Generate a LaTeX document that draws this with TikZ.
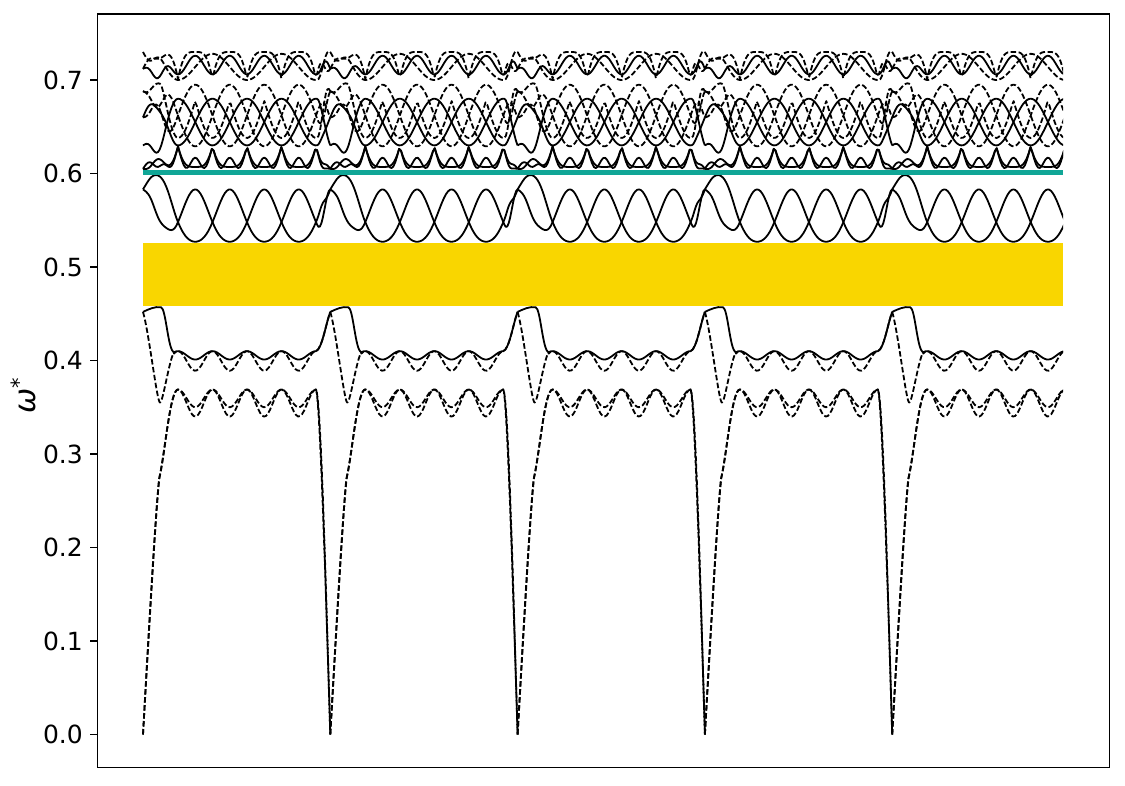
\documentclass[tikz,border=0pt]{standalone}
\usepackage{fontspec}
\setmainfont{DejaVu Sans}
\usetikzlibrary{calc}

\definecolor{gapyellow}{RGB}{249,214,0}
\definecolor{flatteal}{RGB}{16,166,150}
\tikzset{
  curve/.style={line width=1.8pt, line join=round},
  solidc/.style={curve},
  dashc/.style={curve, dash pattern=on 5.5pt off 2.5pt},
  ticklab/.style={anchor=east, inner sep=0pt, font=\fontsize{25}{28}\selectfont},
}
% one band of a segment: style, regular part, value at Gamma, wiggles
\newcommand\band[6]{\draw[#1]
  plot[domain=0:35, samples=22] ({\xo+\x},{mix(wn(\x),#2,ed(\x,#3,#4,#5,#6))})
  -- plot[domain=35:174, samples=75] ({\xo+\x},{#2})
  -- plot[domain=174:187.3, samples=10] ({\xo+\x},{mix(wn(\x),#2,ed(\x,#3,#4,#5,#6))});}

\begin{document}
\begin{tikzpicture}[x=1pt, y=1pt,
  declare function={
    cl(\r)=min(1,max(0,\r));
    wn(\t)=(0.5-0.5*cos(180*cl((\t-6)/29)))*(0.5-0.5*cos(180*cl((187.3-\t)/13)));
    mix(\w,\vr,\ve)=\w*\vr+(1-\w)*\ve;
    ph(\t)=(\t-35)*5.21739;
    sn(\t)=sin(ph(\t));
    cs(\t)=cos(ph(\t));
    bthree(\q)=0.548-0.028*\q+0.007*\q*\q;
    wf(\q)=0.629-0.0443*\q+0.0323*\q*\q*\q*\q;
    uf(\q)=0.629-0.022*\q*(2-\q);
    tf(\q)=0.701+0.029*\q*(2-\q);
    ed(\t,\vg,\va,\vc,\vb)=\vg+\va*sin(180*min(1,\t/35))+\vc*sin(540*min(1,\t/35))+\vb*sin(180*min(1,(187.3-\t)/13));
  }]
\useasboundingbox (0,0) rectangle (1125,785);
\draw[line width=1.2pt] (97.3,17.5) rectangle (1109.5,771);

\begin{scope}[shift={(0pt,50.5pt)}, y=935pt]
  \fill[gapyellow] (143,0.458) rectangle (1063,0.5255);

  \begin{scope}
    \clip (130,-0.05) rectangle (1063,0.78);
    \foreach \s in {0,...,4}{
      \pgfmathsetmacro\xo{143+187.3*\s}
      % acoustic branches
      \draw[dashc] (\xo,0) .. controls ({\xo+7},0.13) and ({\xo+13},0.24) .. ({\xo+16},0.273)
        .. controls ({\xo+22},0.30) and ({\xo+27},0.369) .. ({\xo+35},0.369)
        -- plot[domain=35:173, samples=70] ({\xo+\x},{0.369-0.0095*(1-cos(2*ph(\x)))})
        .. controls ({\xo+177},0.36) and ({\xo+183},0.15) .. ({\xo+187.3},0);
      \draw[dashc] (\xo,0) .. controls ({\xo+7},0.135) and ({\xo+13},0.245) .. ({\xo+16.5},0.275)
        .. controls ({\xo+22},0.30) and ({\xo+27},0.369) .. ({\xo+35},0.369)
        -- plot[domain=35:173, samples=70] ({\xo+\x},{0.369-0.0145*(1-cos(2*ph(\x)))})
        .. controls ({\xo+178},0.36) and ({\xo+183},0.15) .. ({\xo+187.3},0);
      % band below the gap
      \draw[solidc] (\xo,0.452) .. controls ({\xo+6},0.455) and ({\xo+12},0.458) .. ({\xo+18},0.457)
        .. controls ({\xo+23},0.456) and ({\xo+25},0.41) .. ({\xo+31},0.409)
        -- plot[domain=31:173, samples=70] ({\xo+\x},{0.41-0.0045*(1-cos(2*ph(\x)))})
        .. controls ({\xo+179},0.412) and ({\xo+183},0.44) .. ({\xo+187.3},0.452);
      \draw[dashc] (\xo,0.452) .. controls ({\xo+6},0.43) and ({\xo+14},0.355) .. ({\xo+17},0.355)
        .. controls ({\xo+20},0.355) and ({\xo+26},0.40) .. ({\xo+31},0.409)
        -- plot[domain=31:173, samples=70] ({\xo+\x},{0.41-0.0105*(1-cos(2*ph(\x)))})
        .. controls ({\xo+179},0.412) and ({\xo+183},0.44) .. ({\xo+187.3},0.452);
      % band above the gap
      \band{solidc}{bthree(sn(\x))}{0.583}{0.02}{0}{0}
      \band{solidc}{bthree(-sn(\x))}{0.583}{-0.02}{0.004}{-0.012}
      % upper bands
      \band{solidc}{wf(abs(sn(\x)))}{0.605}{0.004}{0.005}{0}
      \band{solidc}{uf(abs(sn(\x)))}{0.605}{0.01}{-0.004}{0.006}
      \band{solidc}{0.655+0.025*cs(\x)}{0.63}{-0.01}{0.006}{0.01}
      \band{solidc}{0.655-0.025*cs(\x)}{0.66}{0.015}{0.005}{-0.01}
      \band{dashc}{0.662+0.033*sn(\x)}{0.66}{0.02}{-0.006}{0.008}
      \band{dashc}{0.662-0.033*sn(\x)}{0.688}{-0.02}{0.005}{-0.006}
      \band{dashc}{0.678-0.04*abs(cs(\x))}{0.688}{0.012}{-0.006}{0.01}
      \band{dashc}{tf(abs(sn(\x)))}{0.712}{0.012}{0.004}{-0.008}
      \band{solidc}{0.706+0.01*(1-cos(2*ph(\x)))}{0.712}{-0.012}{0.006}{0.01}
      \band{dashc}{0.714-0.014*cs(\x)}{0.73}{-0.008}{-0.005}{0.004}
    }
  \end{scope}

  \draw[flatteal, line width=5.5pt] (143,0.601) -- (1063,0.601);

  % y axis
  \foreach \v in {0,...,7}{
    \draw[line width=1.2pt] (90,\v/10) -- (97.3,\v/10);
    \node[ticklab] (tick\v) at (83,\v/10) {0.\v};
  }
  \node[rotate=90, font=\fontsize{30}{32}\selectfont] (ylab) at (23,0.363) {{\itshape ω}\textsuperscript{*}};
\end{scope}
\end{tikzpicture}
\end{document}
